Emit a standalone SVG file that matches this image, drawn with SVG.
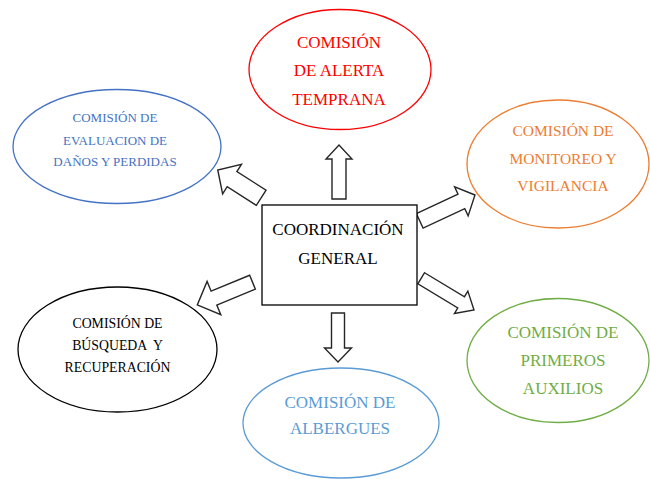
<svg xmlns="http://www.w3.org/2000/svg" width="650" height="479" viewBox="0 0 650 479" font-family="'Liberation Serif', 'DejaVu Serif', serif">
<style>
  .ell { fill: #ffffff; stroke-width: 1.3; }
  .arr { fill: #ffffff; stroke: #262626; stroke-width: 1.4; stroke-linejoin: miter; }
  .t { font-family: 'Liberation Serif', 'DejaVu Serif', serif; text-anchor: middle; }
  .pre { white-space: pre; }
</style>
<rect x="0" y="0" width="650" height="479" fill="#ffffff"/>
<g id="connectors">
  <path class="arr" transform="translate(339,199) rotate(-90)" d="M0,-7 H40 V-13 L54,0 L40,13 V7 H0 Z"/>
  <path class="arr" transform="translate(338,313) rotate(90)" d="M0,-6.5 H35 V-13.5 L49,0 L35,13.5 V6.5 H0 Z"/>
  <path class="arr" transform="translate(261.2,197.8) rotate(-147.4)" d="M0,-9 H34.6 V-17.5 L51.6,0 L34.6,17.5 V9 H0 Z"/>
  <path class="arr" transform="translate(419.7,220.8) rotate(-25)" d="M0,-8 H46 V-16 L61,0 L46,16 V8 H0 Z"/>
  <path class="arr" transform="translate(252.5,282.2) rotate(157.6)" d="M0,-7.5 H41.7 V-18 L59.7,0 L41.7,18 V7.5 H0 Z"/>
  <path class="arr" transform="translate(421.2,278.3) rotate(31)" d="M0,-6.5 H46.6 V-13 L61.6,0 L46.6,13 V6.5 H0 Z"/>
</g>
<g id="coordinacion">
  <rect x="262" y="205" width="155" height="100" fill="#ffffff" stroke="#000000" stroke-width="1.3"/>
  <text class="t" x="338" y="235" font-size="17" fill="#000000">COORDINACIÓN</text>
  <text class="t" x="338" y="264" font-size="17" fill="#000000">GENERAL</text>
</g>
<g id="alerta">
  <ellipse class="ell" cx="340" cy="69.5" rx="91" ry="60" stroke="#FF0000"/>
  <text class="t" x="339" y="48" font-size="17" fill="#FF0000">COMISIÓN</text>
  <text class="t" x="339" y="76" font-size="17" fill="#FF0000">DE ALERTA</text>
  <text class="t" x="339" y="105" font-size="17" fill="#FF0000">TEMPRANA</text>
</g>
<g id="evaluacion">
  <ellipse class="ell" cx="117" cy="146.5" rx="104" ry="57" stroke="#4472C4"/>
  <text class="t" x="115" y="122" font-size="13" fill="#4472C4">COMISIÓN DE</text>
  <text class="t" x="115" y="145" font-size="13" fill="#4472C4">EVALUACION DE</text>
  <text class="t" x="115" y="166" font-size="13" fill="#4472C4">DAÑOS Y PERDIDAS</text>
</g>
<g id="monitoreo">
  <ellipse class="ell" cx="558" cy="164" rx="91" ry="64" stroke="#ED7D31"/>
  <text class="t" x="563" y="136" font-size="15.5" fill="#ED7D31">COMISIÓN DE</text>
  <text class="t" x="563" y="164" font-size="15.5" fill="#ED7D31">MONITOREO Y</text>
  <text class="t" x="563" y="191" font-size="15.5" fill="#ED7D31">VIGILANCIA</text>
</g>
<g id="busqueda">
  <ellipse class="ell" cx="117.5" cy="349.5" rx="99.5" ry="62.5" stroke="#000000"/>
  <text class="t" x="117.5" y="328" font-size="13.8" fill="#000000">COMISIÓN DE</text>
  <text class="t pre" x="117.5" y="350" font-size="13.8" fill="#000000">BÚSQUEDA  Y</text>
  <text class="t" x="117.5" y="372" font-size="13.8" fill="#000000">RECUPERACIÓN</text>
</g>
<g id="auxilios">
  <ellipse class="ell" cx="558" cy="360.5" rx="91" ry="62" stroke="#70AD47"/>
  <text class="t" x="563" y="338" font-size="17" fill="#70AD47">COMISIÓN DE</text>
  <text class="t" x="563" y="366" font-size="17" fill="#70AD47">PRIMEROS</text>
  <text class="t" x="563" y="394" font-size="17" fill="#70AD47">AUXILIOS</text>
</g>
<g id="albergues">
  <ellipse class="ell" cx="341" cy="423" rx="98" ry="55" stroke="#5B9BD5"/>
  <text class="t" x="340" y="408" font-size="17" fill="#5B9BD5">COMISIÓN DE</text>
  <text class="t" x="340" y="434" font-size="17" fill="#5B9BD5">ALBERGUES</text>
</g>
</svg>
